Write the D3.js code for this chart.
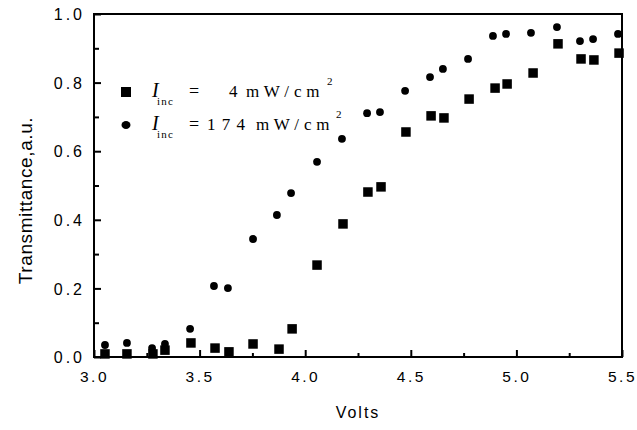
<!DOCTYPE html>
<html>
<head>
<meta charset="utf-8">
<script src="https://cdn.jsdelivr.net/npm/d3@7"></script>
<style>
  body { margin: 0; background: #fff; }
  svg { display: block; }
</style>
</head>
<body>
<svg id="chart" width="637" height="430"></svg>
<script>
// ---- data ----
const lowVolts = [3.052, 3.156, 3.279, 3.336, 3.459, 3.573, 3.639, 3.753, 3.876, 3.938,
                  4.056, 4.179, 4.297, 4.359, 4.477, 4.596, 4.657, 4.776, 4.899, 4.956,
                  5.079, 5.197, 5.306, 5.367, 5.486];
const lowTrans = [0.009, 0.009, 0.009, 0.020, 0.041, 0.026, 0.015, 0.038, 0.023, 0.082,
                  0.268, 0.388, 0.481, 0.496, 0.656, 0.703, 0.697, 0.752, 0.784, 0.796,
                  0.828, 0.913, 0.869, 0.866, 0.886];
const highVolts = [3.052, 3.156, 3.275, 3.336, 3.455, 3.568, 3.634, 3.753, 3.866, 3.933,
                   4.056, 4.174, 4.293, 4.354, 4.473, 4.591, 4.652, 4.771, 4.889, 4.951,
                   5.069, 5.192, 5.301, 5.363, 5.481];
const highTrans = [0.035, 0.041, 0.026, 0.038, 0.082, 0.207, 0.201, 0.344, 0.414, 0.478,
                   0.569, 0.636, 0.711, 0.714, 0.776, 0.816, 0.840, 0.869, 0.936, 0.942,
                   0.945, 0.962, 0.921, 0.927, 0.942];
const xTicks = [3.0, 3.5, 4.0, 4.5, 5.0, 5.5];
const xMinor = [3.25, 3.75, 4.25, 4.75, 5.25];
const yTicks = [0.0, 0.2, 0.4, 0.6, 0.8, 1.0];
const yMinor = [0.1, 0.3, 0.5, 0.7, 0.9];
const xLabel = "Volts";
const yLabel = "Transmittance,a.u.";

// ---- layout ----
const L = 94, R = 622, T = 14, B = 357;
const svg = d3.select("#chart");
const x = d3.scaleLinear().domain([3.0, 5.5]).range([L, R]);
const y = d3.scaleLinear().domain([0, 1]).range([B, T]);

const sans = "'Liberation Sans', Arial, sans-serif";
const serif = "'Liberation Serif', 'Times New Roman', serif";

// ticks (inward)
function styleAxis(g) {
  g.select(".domain").remove();
  g.selectAll("line").attr("stroke", "#000").attr("stroke-width", 2);
}
svg.append("g").attr("transform", `translate(0,${B})`)
  .call(d3.axisBottom(x).tickValues(xTicks).tickSize(-7).tickFormat(d3.format(".1f")))
  .call(styleAxis)
  .call(g => g.selectAll("text")
    .attr("y", 25).attr("dy", 0)
    .attr("font-family", sans).attr("font-size", 15.5)
    .attr("letter-spacing", 2.5).attr("fill", "#000"));
svg.append("g").attr("transform", `translate(0,${B})`)
  .call(d3.axisBottom(x).tickValues(xMinor).tickSize(-4).tickFormat(""))
  .call(styleAxis);

svg.append("g").attr("transform", `translate(${L},0)`)
  .call(d3.axisLeft(y).tickValues(yTicks).tickSize(-7).tickFormat(d3.format(".1f")))
  .call(styleAxis)
  .call(g => g.selectAll("text")
    .attr("x", -9).attr("dy", "0.35em")
    .attr("font-family", sans).attr("font-size", 16)
    .attr("letter-spacing", 3).attr("fill", "#000"));
svg.append("g").attr("transform", `translate(${L},0)`)
  .call(d3.axisLeft(y).tickValues(yMinor).tickSize(-5).tickFormat(""))
  .call(styleAxis);

// frame
svg.append("rect")
  .attr("x", L).attr("y", T).attr("width", R - L).attr("height", B - T)
  .attr("fill", "none").attr("stroke", "#000").attr("stroke-width", 2);

// axis titles
svg.append("text")
  .attr("x", (L + R) / 2).attr("y", 418)
  .attr("text-anchor", "middle")
  .attr("font-family", sans).attr("font-size", 16).attr("letter-spacing", 2)
  .text(xLabel);
svg.append("text")
  .attr("transform", `translate(32,${(T + B) / 2 + 15}) rotate(-90)`)
  .attr("text-anchor", "middle")
  .attr("font-family", sans).attr("font-size", 19).attr("letter-spacing", 0.6)
  .text(yLabel);

// markers
const sq = 9.5;
svg.append("g").selectAll("rect")
  .data(lowVolts.map((v, i) => [v, lowTrans[i]]))
  .join("rect")
  .attr("x", d => x(d[0]) - sq / 2).attr("y", d => y(d[1]) - sq / 2)
  .attr("width", sq).attr("height", sq).attr("fill", "#000");
svg.append("g").selectAll("circle")
  .data(highVolts.map((v, i) => [v, highTrans[i]]))
  .join("circle")
  .attr("cx", d => x(d[0])).attr("cy", d => y(d[1]))
  .attr("r", 3.9).attr("fill", "#000");

// legend
const lg = svg.append("g").attr("font-family", serif).attr("fill", "#000");
lg.append("rect").attr("x", 126 - 5).attr("y", 92 - 5).attr("width", 10).attr("height", 10);
lg.append("ellipse").attr("cx", 126).attr("cy", 125).attr("rx", 4.5).attr("ry", 4);

function legendRow(yb, num, numX, unitX, supX) {
  lg.append("text").attr("x", 152).attr("y", yb).attr("font-size", 20)
    .attr("font-style", "italic").text("I");
  lg.append("text").attr("x", 157).attr("y", yb + 8).attr("font-size", 11)
    .attr("letter-spacing", 1.2).text("inc");
  lg.append("text").attr("x", 189).attr("y", yb).attr("font-size", 18).text("=");
  lg.append("text").attr("x", numX).attr("y", yb).attr("font-size", 17)
    .attr("letter-spacing", 1).text(num);
  lg.append("text").attr("x", unitX).attr("y", yb).attr("font-size", 17)
    .attr("letter-spacing", 0.3).text("m W / c m");
  lg.append("text").attr("x", supX).attr("y", yb - 12).attr("font-size", 11).text("2");
}
legendRow(97, "4", 229, 246, 327);
legendRow(130, "1 7 4", 207, 256, 336);
</script>
</body>
</html>
